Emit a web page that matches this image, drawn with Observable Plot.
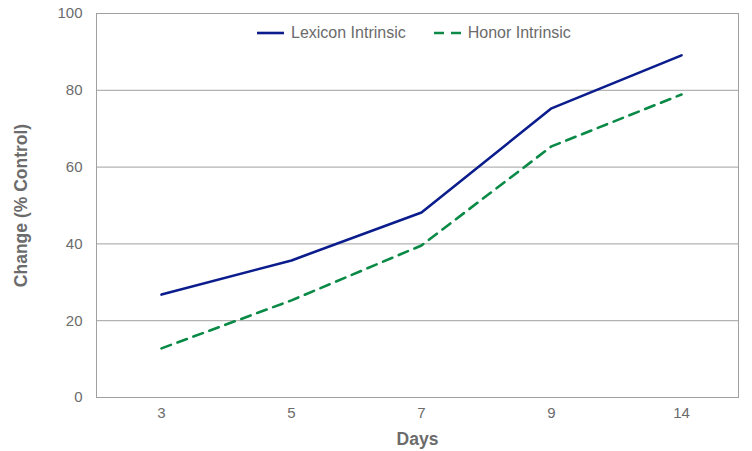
<!DOCTYPE html>
<html>
<head>
<meta charset="utf-8">
<script src="https://cdn.jsdelivr.net/npm/d3@7"></script>
<script src="https://cdn.jsdelivr.net/npm/@observablehq/plot@0.6"></script>
<style>
  html, body { margin: 0; padding: 0; background: white; }
  #wrap { position: relative; width: 752px; height: 451px; font-family: "Liberation Sans", Arial, Helvetica, sans-serif; }
  #legend { position: absolute; top: 24px; left: 257px; display: flex; align-items: center; font-size: 16px; color: #6b6b6b; white-space: nowrap; }
  #legend .item { display: flex; align-items: center; margin-right: 28px; }
  #legend svg { margin-right: 7px; }
</style>
</head>
<body>
<div id="wrap">
  <div id="legend"></div>
</div>
<script>
const days = ["3", "5", "7", "9", "14"];
const lexicon = [26.8, 35.7, 48.2, 75.3, 89.1];
const honor = [12.8, 25.3, 39.6, 65.4, 78.9];
const yTicks = [0, 20, 40, 60, 80, 100];
const seriesNames = ["Lexicon Intrinsic", "Honor Intrinsic"];
const colors = ["#0b1d8c", "#0a8a46"];
const dashes = [null, "10,7"];

const data = [];
days.forEach((d, i) => {
  data.push({day: d, value: lexicon[i], series: seriesNames[0]});
  data.push({day: d, value: honor[i], series: seriesNames[1]});
});

const chart = Plot.plot({
  width: 752,
  height: 451,
  marginLeft: 96,
  marginRight: 14,
  marginTop: 13,
  marginBottom: 54,
  style: {fontFamily: "'Liberation Sans', Arial, Helvetica, sans-serif", fontSize: "15px", color: "#6b6b6b", background: "white", overflow: "visible"},
  x: {type: "point", domain: days, range: [160, 681], padding: 0},
  y: {domain: [0, 100]},
  marks: [
    Plot.gridY(yTicks, {stroke: "#a0a0a0", strokeOpacity: 1}),
    Plot.frame({stroke: "#a0a0a0"}),
    Plot.axisY({ticks: yTicks, tickSize: 0, tickPadding: 14, fontSize: 15, label: "Change (% Control)", labelAnchor: "center", labelArrow: "none", labelOffset: 82}),
    Plot.axisX({tickSize: 0, tickPadding: 10, fontSize: 15, label: "Days", labelAnchor: "center", labelArrow: "none", labelOffset: 47}),
    Plot.lineY(data.filter(d => d.series === seriesNames[0]), {x: "day", y: "value", stroke: colors[0], strokeWidth: 2.6}),
    Plot.lineY(data.filter(d => d.series === seriesNames[1]), {x: "day", y: "value", stroke: colors[1], strokeWidth: 2.6, strokeDasharray: dashes[1]})
  ]
});

d3.select(chart).selectAll('g[aria-label="y-axis label"] text, g[aria-label="x-axis label"] text')
  .attr("font-weight", "bold").attr("font-size", 17.5);

document.getElementById("wrap").prepend(chart);
chart.style.position = "absolute";
chart.style.left = "0px";
chart.style.top = "0px";

const legend = document.getElementById("legend");
legend.style.zIndex = 2;
seriesNames.forEach((name, i) => {
  const item = document.createElement("div");
  item.className = "item";
  item.innerHTML = `<svg width="27" height="6"><line x1="0" x2="27" y1="3" y2="3" stroke="${colors[i]}" stroke-width="2.6" ${dashes[i] ? `stroke-dasharray="${dashes[i]}"` : ""}/></svg><span>${name}</span>`;
  legend.appendChild(item);
});
</script>
</body>
</html>
